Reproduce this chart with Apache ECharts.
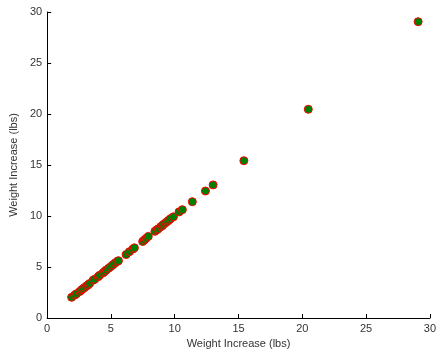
<!DOCTYPE html>
<html><head><meta charset="utf-8">
<script src="https://cdn.jsdelivr.net/npm/echarts@6/dist/echarts.min.js"></script>
<style>html,body{margin:0;padding:0;background:#fff;}#c{width:439px;height:358px;}</style>
</head><body><div id="c"></div>
<script>
const xValues = [1.92,2.17,2.30,2.56,2.70,2.82,2.95,3.10,3.21,3.33,3.60,3.73,4.00,4.11,4.38,4.50,4.63,4.82,5.00,5.16,5.33,5.50,5.59,6.19,6.45,6.71,6.84,7.49,7.62,7.75,7.93,8.45,8.60,8.71,8.91,9.02,9.12,9.30,9.43,9.55,9.69,9.90,10.34,10.60,11.38,12.41,13.01,15.42,20.47,29.08];
const yValues = [2.03,2.25,2.38,2.60,2.76,2.88,3.00,3.15,3.25,3.38,3.70,3.80,4.05,4.18,4.42,4.55,4.70,4.88,5.05,5.22,5.40,5.55,5.62,6.22,6.50,6.75,6.88,7.50,7.65,7.80,8.00,8.50,8.65,8.75,8.95,9.05,9.18,9.35,9.48,9.60,9.75,9.92,10.40,10.62,11.40,12.45,13.05,15.42,20.46,29.05];
const axisTicks = [0,5,10,15,20,25,30];
const xTitle = 'Weight Increase (lbs)';
const yTitle = 'Weight Increase (lbs)';

const points = xValues.map((x,i)=>[x,yValues[i]]);
const font = {fontFamily:'Liberation Sans, Arial, sans-serif', fontSize:11, color:'#333'};
const chart = echarts.init(document.getElementById('c'), null, {renderer:'canvas'});
const axisCommon = {
  min: axisTicks[0], max: axisTicks[axisTicks.length-1], interval: axisTicks[1]-axisTicks[0],
  axisLine:{show:true, onZero:false, lineStyle:{color:'#000', width:1}},
  axisTick:{show:true, inside:true, length:4, lineStyle:{color:'#000'}},
  axisLabel:Object.assign({margin:5}, font),
  splitLine:{show:false},
  nameLocation:'middle',
  nameTextStyle: font
};
chart.setOption({
  animation:false,
  backgroundColor:'#fff',
  grid:{left:45, right:7.5, top:12, bottom:40, containLabel:false},
  xAxis:Object.assign({}, axisCommon, {type:'value', name:xTitle, nameGap:18}),
  yAxis:Object.assign({}, axisCommon, {type:'value', name:yTitle, nameGap:22}),
  series:[{
    type:'scatter',
    data:points,
    symbol:'circle',
    symbolSize:8,
    itemStyle:{color:'#008000', borderColor:'#ff0000', borderWidth:1, opacity:1}
  }]
});
</script></body></html>
